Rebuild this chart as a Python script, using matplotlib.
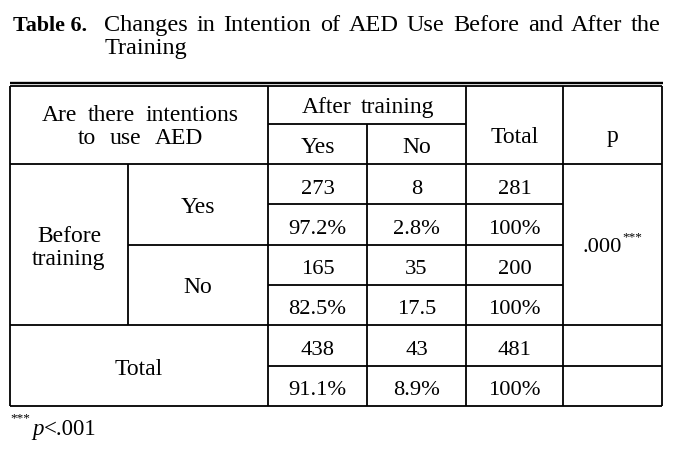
import matplotlib
matplotlib.use("Agg")
import matplotlib.pyplot as plt

# ---- data ----
title_label = "Table 6."
title_text = "Changes in Intention of AED Use Before and After the"
title_text2 = "Training"
corner_header = ["Are there intentions", "to use AED"]
after_header = "After training"
after_levels = ["Yes", "No"]
total_header = "Total"
p_header = "p"
before_label = ["Before", "training"]
before_levels = ["Yes", "No"]
counts = [["273", "8", "281"], ["165", "35", "200"]]
percents = [["97.2%", "2.8%", "100%"], ["82.5%", "17.5", "100%"]]
total_label = "Total"
total_counts = ["438", "43", "481"]
total_percents = ["91.1%", "8.9%", "100%"]
p_value = ".000"
p_stars = "***"
foot_p = "p"
foot_rest = "<.001"

FONT = "Liberation Serif"
FS = 17        # words
NFS = 16.2     # numbers
W, H = 673, 453

fig = plt.figure(figsize=(W / 100, H / 100), dpi=100)
ax = fig.add_axes([0, 0, 1, 1])
ax.set_xlim(0, W)
ax.set_ylim(H, 0)
ax.axis("off")
renderer = fig.canvas.get_renderer()

# layout (pixels)
xs = [10, 128, 268, 367, 466, 563, 662]
y_top = 86
y_mid_head = 124
y_head = 164
row_h = (406 - 164) / 6
ys = [y_head + i * row_h for i in range(7)]

lw = 1.3
def hl(y, x0, x1, w=lw):
    ax.plot([x0, x1], [y, y], color="black", lw=w, solid_capstyle="butt")
def vl(x, y0, y1, w=lw):
    ax.plot([x, x], [y0, y1], color="black", lw=w, solid_capstyle="butt")

def txt(x, y, s, **kw):
    kw.setdefault("ha", "center")
    kw.setdefault("va", "baseline")
    kw.setdefault("fontsize", FS)
    return ax.text(x, y, s, family=FONT, color="black", **kw)

def spaced(line, y, x0=None, x1=None, center=None, width=None, **kw):
    words = line.split(" ")
    objs = [txt(0, y, w, ha="left", **kw) for w in words]
    widths = [o.get_window_extent(renderer).width for o in objs]
    if center is not None:
        x0 = center - width / 2
        x1 = center + width / 2
    gap = (x1 - x0 - sum(widths)) / max(len(words) - 1, 1)
    x = x0
    for o, w in zip(objs, widths):
        o.set_x(x)
        x += w + gap

# title
txt(13, 31, title_label, ha="left", fontweight="bold", fontsize=15.8)
spaced(title_text, 31, x0=104, x1=661, fontsize=17.5)
txt(105, 54, title_text2, ha="left", fontsize=17.5)

# rules
hl(82.5, 10, 663, w=1.7)
hl(y_top, xs[0], xs[-1])
vl(xs[0], y_top, ys[6])
vl(xs[-1], y_top, ys[6])
for x in (xs[2], xs[4], xs[5]):
    vl(x, y_top, ys[6])
vl(xs[1], ys[0], ys[4])
hl(y_mid_head, xs[2], xs[4])
vl(xs[3], y_mid_head, ys[6])
hl(ys[0], xs[0], xs[-1])
hl(ys[1], xs[2], xs[5])
hl(ys[2], xs[1], xs[5])
hl(ys[3], xs[2], xs[5])
hl(ys[4], xs[0], xs[-1])
hl(ys[5], xs[2], xs[-1])
hl(ys[6], xs[0], xs[-1])

# header
spaced(corner_header[0], 121, center=140, width=196)
spaced(corner_header[1], 144, center=140.5, width=125)
spaced(after_header, 113, center=368, width=132)
for i, lev in enumerate(after_levels):
    txt((xs[2 + i] + xs[3 + i]) / 2, 153, lev)
txt((xs[4] + xs[5]) / 2, 143, total_header)
txt((xs[5] + xs[6]) / 2, 142, p_header)

# body
txt((xs[0] + xs[1]) / 2, 242, before_label[0])
txt((xs[0] + xs[1]) / 2, 265, before_label[1])
for r, lev in enumerate(before_levels):
    txt((xs[1] + xs[2]) / 2, 213 + 80 * r, lev)
    for c in range(3):
        cx = (xs[2 + c] + xs[3 + c]) / 2
        txt(cx, ys[2 * r] + 29.5, counts[r][c], fontsize=NFS)
        txt(cx, ys[2 * r + 1] + 29.5, percents[r][c], fontsize=NFS)

pv = txt(582, 252, p_value, ha="left", fontsize=NFS)
pw = pv.get_window_extent(renderer).width
txt(582 + pw + 1, 231, p_stars, ha="left", va="top", fontsize=9.5)

txt((xs[0] + xs[2]) / 2, 375, total_label)
for c in range(3):
    cx = (xs[2 + c] + xs[3 + c]) / 2
    txt(cx, ys[4] + 29.5, total_counts[c], fontsize=NFS)
    txt(cx, ys[5] + 29.5, total_percents[c], fontsize=NFS)

# footnote
txt(10, 412, p_stars, ha="left", va="top", fontsize=9.5)
fp = txt(32, 435, foot_p, ha="left", style="italic", fontsize=16.5)
fw = fp.get_window_extent(renderer).width
txt(32 + fw, 435, foot_rest, ha="left", fontsize=16.5)

fig.savefig("out.png", dpi=100)
